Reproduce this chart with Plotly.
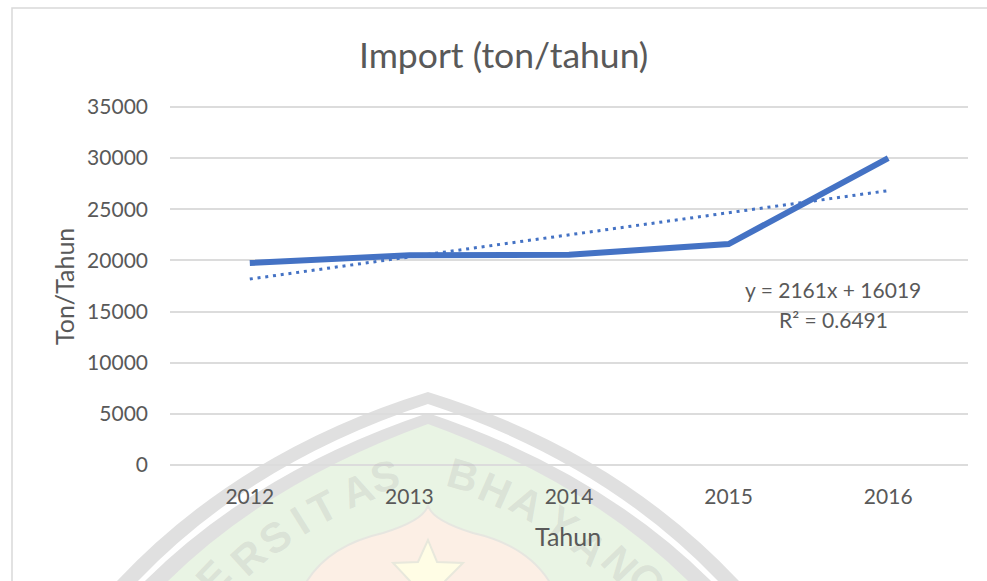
import plotly.graph_objects as go

W, H = 987, 581
categories = ["2012", "2013", "2014", "2015", "2016"]
import_values = [19750, 20500, 20550, 21600, 30000]
trend_values = [18180, 20341, 22502, 24663, 26824]
y_ticks = [0, 5000, 10000, 15000, 20000, 25000, 30000, 35000]
title_text = "Import (ton/tahun)"
x_title = "Tahun"
y_title = "Ton/Tahun"
equation_text = "y = 2161x + 16019"
r2_text = "R² = 0.6491"

BLUE = "#4472C4"
TXT = "#595959"
GRID = "#DCDCDC"
FONT = "Lato, Carlito, Calibri, sans-serif"
WM_FONT = "Liberation Sans, Arial, sans-serif"


def px(x):
    return x / W


def py(y):
    return 1 - y / H


def pt(p):
    return f"{px(p[0]):.4f},{py(p[1]):.4f}"


def wm(d, color, outline=None):
    return dict(type="path", xref="paper", yref="paper", path=d, fillcolor=color,
                line=dict(width=2 if outline else 0, color=outline or color), layer="below")


def chevron(apex, left):
    cx = 240 + (left - 117) * 0.55
    cy = 450 + (apex - 392)
    return (f"M {pt((left, 600))} L {pt((left, 581))} Q {pt((cx, cy))} {pt((428, apex))} "
            f"Q {pt((856 - cx, cy))} {pt((856 - left, 581))} L {pt((856 - left, 600))} Z")


ogee = (f"M {pt((307, 590))} L {pt((307, 581))} Q {pt((330, 545))} {pt((383, 533))} Q {pt((425, 520))} {pt((428, 505))} "
        f"Q {pt((431, 520))} {pt((473, 533))} Q {pt((526, 545))} {pt((549, 581))} L {pt((549, 590))} Z")
star_pts = [(408, 590), (410, 581), (393, 563), (418, 562), (428, 540), (437, 562), (463, 563), (445, 581), (447, 590)]
star = "M " + " L ".join(pt(p) for p in star_pts) + " Z"

shapes = [
    wm(chevron(392, 117), "#E0E0E0"), wm(chevron(404, 138), "#FFFFFF"), wm(chevron(413, 145), "#E0E0E0"),
    wm(chevron(424, 168), "#E9F4E4"), wm(ogee, "#FCEFE5", "#E6E6E0"), wm(star, "#FFFDE5", "#E8E8DC"),
    dict(type="rect", xref="paper", yref="paper", x0=px(12), x1=px(1010), y0=py(640), y1=py(8),
         line=dict(color="#D9D9D9", width=1.5), fillcolor="rgba(0,0,0,0)", layer="below"),
]

letters = [("E", 213, 577, -46), ("R", 248, 557, -42), ("S", 275, 537, -36), ("I", 300, 520, -32), ("T", 323, 507, -28),
           ("A", 357, 490, -22), ("S", 385, 477, -14), ("B", 463, 475, 16), ("H", 495, 490, 24), ("A", 527, 503, 30),
           ("Y", 562, 523, 36), ("A", 590, 547, 42), ("N", 620, 563, 46), ("G", 647, 580, 50)]
annotations = [dict(text=c, x=px(x), y=py(y), xref="paper", yref="paper", showarrow=False, textangle=a,
                    xanchor="center", yanchor="middle",
                    font=dict(family=WM_FONT, size=42, weight=700, color="rgba(170,170,170,0.24)"))
               for c, x, y, a in letters]


def label(text, x, y, size, angle=0):
    annotations.append(dict(text=text, x=px(x), y=py(y), xref="paper", yref="paper", showarrow=False,
                            xanchor="center", yanchor="middle", align="center", textangle=angle,
                            font=dict(family=FONT, size=size, color=TXT)))


label(equation_text, 833, 289, 21)
label(r2_text, 833, 319, 21)
label(title_text, 504, 54, 35.5)
label(x_title, 568, 536, 25)
label(y_title, 64, 287, 25, -90)

fig = go.Figure()
fig.add_trace(go.Scatter(x=categories, y=import_values, mode="lines", line=dict(color=BLUE, width=6)))
fig.add_trace(go.Scatter(x=categories, y=trend_values, mode="lines", line=dict(color=BLUE, width=3, dash="3px,4.8px")))
fig.update_layout(
    width=W, height=H, autosize=False, showlegend=False, paper_bgcolor="white", plot_bgcolor="rgba(0,0,0,0)",
    margin=dict(l=0, r=0, t=0, b=0), shapes=shapes, annotations=annotations,
    xaxis=dict(type="category", domain=[px(170), px(968)], range=[-0.5, 4.5], showgrid=False, showline=False,
               ticks="", tickfont=dict(family=FONT, size=21, color=TXT), anchor="y", automargin=False,
               ticklabelstandoff=15),
    yaxis=dict(domain=[py(467.05), py(104.95)], range=[-200, 35200], tickvals=y_ticks,
               ticktext=[str(v) for v in y_ticks],
               gridcolor=GRID, gridwidth=1.5, zeroline=False, showline=False, ticks="",
               tickfont=dict(family=FONT, size=21, color=TXT), anchor="x", automargin=False,
               ticklabelstandoff=21),
)
fig.write_html("out.html", config={"displayModeBar": False},
               post_script="document.body.style.margin='0';document.body.style.overflow='hidden';")
